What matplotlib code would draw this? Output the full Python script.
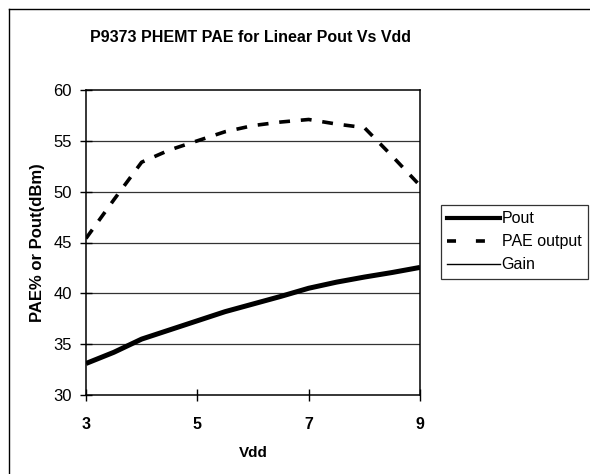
import matplotlib
matplotlib.use("Agg")
import matplotlib.pyplot as plt
from matplotlib.lines import Line2D

plt.rcParams['font.family'] = ['Liberation Sans', 'DejaVu Sans']

# Data
vdd = [3.0, 3.5, 4.0, 4.5, 5.0, 5.5, 6.0, 6.5, 7.0, 7.5, 8.0, 8.5, 9.0]
pout = [33.1, 34.2, 35.5, 36.4, 37.3, 38.2, 38.95, 39.7, 40.5, 41.1, 41.6, 42.05, 42.55]
pae_output = [45.4, 49.2, 52.9, 54.1, 55.0, 55.9, 56.5, 56.85, 57.1, 56.65, 56.3, 53.5, 50.6]
gain_vdd = []
gain = []

x_ticks = [3, 5, 7, 9]
y_ticks = [30, 35, 40, 45, 50, 55, 60]

title = "P9373 PHEMT PAE for Linear Pout Vs Vdd"
xlabel = "Vdd"
ylabel = "PAE% or Pout(dBm)"
legend_labels = ['Pout', 'PAE output', 'Gain']

W, H = 590, 474
fig = plt.figure(figsize=(W / 100, H / 100), dpi=100)
fig.patch.set_facecolor('white')

# outer chart frame: only left and top edges fall inside the image
fig.add_artist(Line2D([9 / W, 9 / W], [0, 1 - 9 / H], transform=fig.transFigure,
                      color='black', linewidth=1.0))
fig.add_artist(Line2D([9 / W, 1], [1 - 9 / H, 1 - 9 / H], transform=fig.transFigure,
                      color='black', linewidth=1.0))

ax = fig.add_axes([86 / W, 1 - 395 / H, (420 - 86) / W, (395 - 90) / H])

ax.plot(vdd, pout, color='black', linewidth=3.6, solid_capstyle='butt',
        label=legend_labels[0], zorder=3)
ax.plot(vdd, pae_output, color='black', linewidth=2.6, linestyle=(0, (3, 3)),
        dash_capstyle='butt', label=legend_labels[1], zorder=3)
ax.plot(gain_vdd, gain, color='black', linewidth=1.0, label=legend_labels[2])

ax.set_xlim(3, 9)
ax.set_ylim(30, 60)
ax.set_xticks(x_ticks)
ax.set_yticks(y_ticks)
ax.set_xticklabels([str(t) for t in x_ticks], fontsize=11.5, fontweight='bold')
ax.set_yticklabels([str(t) for t in y_ticks], fontsize=12)
ax.tick_params(axis='y', direction='inout', length=8, width=1, color='black', pad=6)
ax.tick_params(axis='x', direction='inout', length=8, width=1, color='black', pad=12)

for y in y_ticks[1:-1]:
    ax.axhline(y, color='#333333', linewidth=0.9, zorder=1)

for s in ax.spines.values():
    s.set_color('black')
    s.set_linewidth(1.1)

ax.set_xlabel(xlabel, fontsize=11, fontweight='bold', labelpad=10)
ax.set_ylabel(ylabel, fontsize=12, fontweight='bold', labelpad=6)

fig.text(250 / W, 1 - 37 / H, title, ha='center', va='center',
         fontsize=11.5, fontweight='bold')

handles = [Line2D([], [], color='black', linewidth=3.0),
           Line2D([], [], color='black', linewidth=2.6, linestyle=(0, (2.5, 5.5))),
           Line2D([], [], color='black', linewidth=1.0)]
leg = fig.legend(handles, legend_labels,
                 loc='upper left', bbox_to_anchor=(441 / W, 1 - 205 / H),
                 bbox_transform=fig.transFigure, frameon=True, fancybox=False,
                 fontsize=11.5, handlelength=3.3, handletextpad=0.1,
                 borderpad=0.4, labelspacing=0.5, borderaxespad=0)
leg.get_frame().set_edgecolor('black')
leg.get_frame().set_linewidth(0.9)

fig.savefig('out.png', dpi=100)
